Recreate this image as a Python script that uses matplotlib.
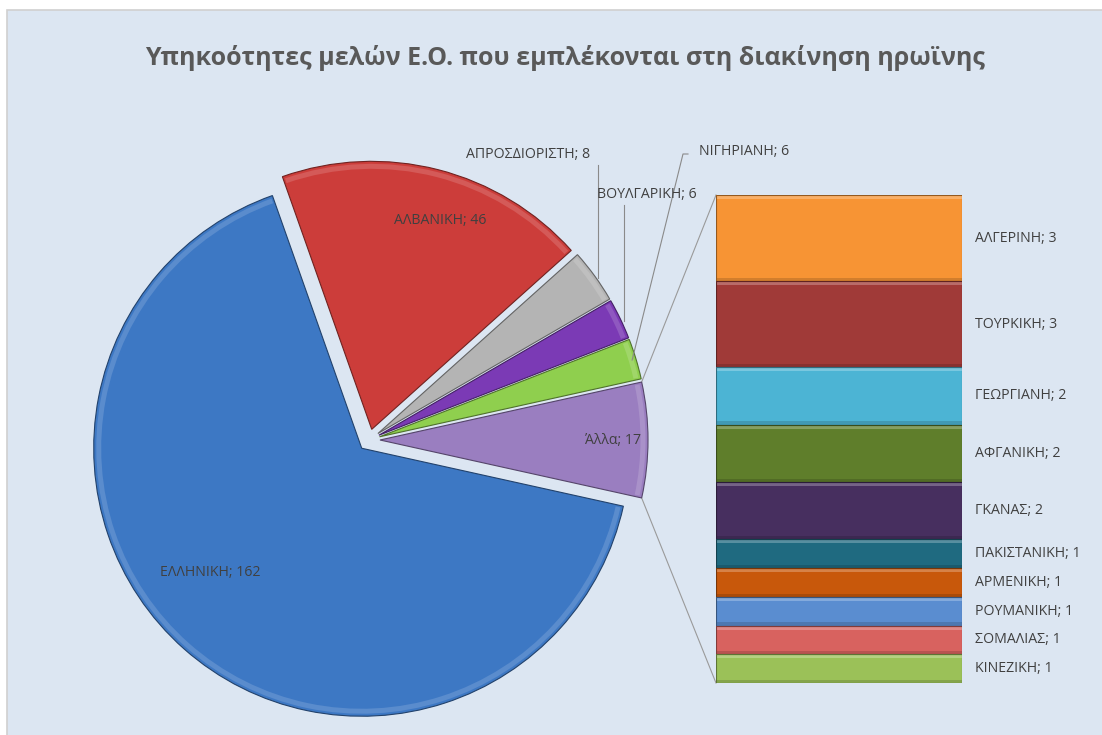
import matplotlib
matplotlib.use("Agg")
import matplotlib.pyplot as plt
import matplotlib.patches as mpatches
import matplotlib.colors as mcolors
import numpy as np

# ---------------- data ----------------
pie_labels = ["ΕΛΛΗΝΙΚΗ", "ΑΛΒΑΝΙΚΗ", "ΑΠΡΟΣΔΙΟΡΙΣΤΗ", "ΒΟΥΛΓΑΡΙΚΗ", "ΝΙΓΗΡΙΑΝΗ", "Άλλα"]
pie_values = [162, 46, 8, 6, 6, 17]
pie_colors = ["#3D78C4", "#CC3D3A", "#B4B4B4", "#7B3AB5", "#8FCF4E", "#9A7EC0"]

bar_labels = ["ΑΛΓΕΡΙΝΗ", "ΤΟΥΡΚΙΚΗ", "ΓΕΩΡΓΙΑΝΗ", "ΑΦΓΑΝΙΚΗ", "ΓΚΑΝΑΣ",
              "ΠΑΚΙΣΤΑΝΙΚΗ", "ΑΡΜΕΝΙΚΗ", "ΡΟΥΜΑΝΙΚΗ", "ΣΟΜΑΛΙΑΣ", "ΚΙΝΕΖΙΚΗ"]
bar_values = [3, 3, 2, 2, 2, 1, 1, 1, 1, 1]
bar_colors = ["#F79434", "#A03A38", "#4CB4D4", "#5F7E2B", "#472F5F",
              "#1F6A80", "#C8580B", "#5A8DD0", "#D8625F", "#9BC158"]

title = "Υπηκοότητες μελών Ε.Ο. που εμπλέκονται στη διακίνηση ηρωϊνης"

# ---------------- layout ----------------
W, H = 1102, 735
BG = "#DCE6F2"
TXT = "#404040"
FONT = ["Open Sans", "DejaVu Sans"]


def mix(c, other, t):
    a = np.array(mcolors.to_rgb(c))
    b = np.array(mcolors.to_rgb(other))
    return tuple(a * (1 - t) + b * t)


fig = plt.figure(figsize=(W / 100, H / 100), dpi=100)
fig.patch.set_facecolor("white")
ax = fig.add_axes([0, 0, 1, 1])

# pie (reversed order so the "other" slice is centred at 3 o'clock, counter-clockwise)
center = (369, 295)
R = 268
vals_r = pie_values[::-1]
cols_r = pie_colors[::-1]
total = sum(pie_values)
start = -360 * vals_r[0] / total / 2
explode = [11] * len(vals_r)
wedges, _ = ax.pie(vals_r, colors=cols_r, startangle=start, counterclock=True,
                   center=center, radius=R, explode=explode,
                   wedgeprops=dict(linewidth=0.8), frame=False)
ax.set_xlim(0, W)
ax.set_ylim(0, H)
ax.set_aspect("auto")
ax.axis("off")
for w, c in zip(wedges, cols_r):
    w.set_edgecolor(mix(c, "black", 0.45))
    w.set_zorder(2)
    # soft bevel highlight along the rim
    hl = mpatches.Wedge(w.center, w.r - 2.5, w.theta1 + 0.4, w.theta2 - 0.4, width=5,
                        facecolor=mix(c, "white", 0.15), edgecolor="none", zorder=2.5)
    ax.add_patch(hl)
wmap = dict(zip(pie_labels[::-1], wedges))

# chart area background with thin border
ax.add_patch(mpatches.Rectangle((7, -5), W + 10, H - 10 + 5, facecolor=BG,
                                edgecolor="#D0D0D0", linewidth=1.2, zorder=0))


def edge_point(w, ang, r=None):
    r = w.r if r is None else r
    cx, cy = w.center
    a = np.deg2rad(ang)
    return cx + r * np.cos(a), cy + r * np.sin(a)


# inner labels
inner_pos = {"ΕΛΛΗΝΙΚΗ": (210, H - 572), "ΑΛΒΑΝΙΚΗ": (440, H - 220), "Άλλα": (613, H - 440)}
for name, (x, y) in inner_pos.items():
    v = pie_values[pie_labels.index(name)]
    ax.text(x, y, f"{name}; {v}", ha="center", va="center", fontsize=10.2,
            color=TXT, family=FONT, zorder=5)

# outer labels with leader lines
outer = {
    "ΑΠΡΟΣΔΙΟΡΙΣΤΗ": dict(text=(528, H - 154), top=(598, H - 165)),
    "ΒΟΥΛΓΑΡΙΚΗ": dict(text=(647, H - 194), top=(624, H - 205)),
    "ΝΙΓΗΡΙΑΝΗ": dict(text=(744, H - 151), top=(688, H - 154)),
}
for name, d in outer.items():
    v = pie_values[pie_labels.index(name)]
    ax.text(*d["text"], f"{name}; {v}", ha="center", va="center", fontsize=10.2,
            color=TXT, family=FONT, zorder=5)
    w = wmap[name]
    mid = 0.5 * (w.theta1 + w.theta2)
    ex, ey = edge_point(w, mid, w.r - 4)
    tx, ty = d["top"]
    if name == "ΝΙΓΗΡΙΑΝΗ":
        ax.plot([tx, tx - 5, ex], [ty, ty, ey], color="#8A8A8A", lw=0.8, zorder=4)
    else:
        ax.plot([tx, tx], [ty, ey], color="#8A8A8A", lw=0.8, zorder=4)

# bar of "other"
bx0, bx1, by0, by1 = 716, 962, H - 683, H - 195
bax = fig.add_axes([bx0 / W, by0 / H, (bx1 - bx0) / W, (by1 - by0) / H])
bax.set_xlim(0, 1)
bax.set_ylim(0, sum(bar_values))
bax.axis("off")
unit_px = (by1 - by0) / sum(bar_values)
band = 4.0 / unit_px
bottom = sum(bar_values)
for lab, v, c in zip(bar_labels, bar_values, bar_colors):
    bottom -= v
    bax.bar(0.5, v, width=1.0, bottom=bottom, color=c, linewidth=0, zorder=2)
    # bevel: light top band, darker bottom band
    bax.bar(0.5, band, width=1.0, bottom=bottom + v - band,
            color=mix(c, "white", 0.25), linewidth=0, zorder=3)
    bax.bar(0.5, band * 0.8, width=1.0, bottom=bottom,
            color=mix(c, "black", 0.15), linewidth=0, zorder=3)
    bax.bar(0.5, v, width=1.0, bottom=bottom, facecolor="none",
            edgecolor=mix(c, "black", 0.4), linewidth=0.8, zorder=4)
    bax.text(1.053, bottom + v / 2, f"{lab}; {v}", transform=bax.transData,
             ha="left", va="center", fontsize=10.2, color=TXT, family=FONT, clip_on=False)

# connector lines from the "other" slice to the bar
wo = wmap["Άλλα"]
p_top = edge_point(wo, wo.theta2)
p_bot = edge_point(wo, wo.theta1)
ax.plot([p_top[0], bx0], [p_top[1], by1], color="#9A9A9A", lw=0.8, zorder=1)
ax.plot([p_bot[0], bx0], [p_bot[1], by0], color="#9A9A9A", lw=0.8, zorder=1)

# title
ax.text(565, H - 58, title, ha="center", va="center", fontsize=18, fontweight="bold",
        color="#595959", family=FONT, zorder=5)

fig.savefig("out.png", dpi=100, facecolor=fig.get_facecolor())
